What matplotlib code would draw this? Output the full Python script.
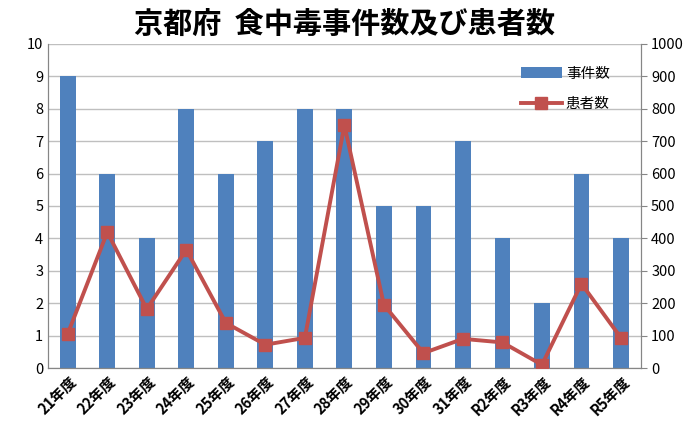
import numpy as np
import matplotlib.pyplot as plt

plt.rcParams['font.family'] = ['Noto Sans CJK JP', 'DejaVu Sans']

years = ['21年度', '22年度', '23年度', '24年度', '25年度', '26年度', '27年度', '28年度',
         '29年度', '30年度', '31年度', 'R2年度', 'R3年度', 'R4年度', 'R5年度']
incidents = [9, 6, 4, 8, 6, 7, 8, 8, 5, 5, 7, 4, 2, 6, 4]
patients = [106, 419, 182, 365, 139, 72, 93, 749, 195, 46, 90, 79, 10, 260, 93]

x = np.arange(len(years))

fig = plt.figure(figsize=(6.9, 4.34), dpi=100, facecolor='white')
ax = fig.add_axes([0.0696, 0.152, 0.859, 0.747])
ax2 = ax.twinx()

ax.bar(x, incidents, width=0.4, color='#4F81BD', zorder=2, label='事件数')
ax2.plot(x, patients, color='#C0504D', lw=2.8, marker='s', ms=9, zorder=3, label='患者数')

ax.set_xlim(-0.5, len(years) - 0.5)
ax.set_ylim(0, 10)
ax.set_yticks(range(0, 11))
ax2.set_ylim(0, 1000)
ax2.set_yticks(range(0, 1001, 100))
ax.grid(axis='y', color='#BFBFBF', lw=1, zorder=0)
ax.set_axisbelow(True)

ax.set_xticks(x)
ax.set_xticklabels(years, rotation=45, ha='right', rotation_mode='anchor',
                   fontsize=10.5, fontweight='bold')
for a in (ax, ax2):
    a.spines['top'].set_visible(False)
    for s in ['left', 'right', 'bottom']:
        a.spines[s].set_color('#868686')
    a.tick_params(axis='y', labelsize=10.5, length=0, colors='#404040', labelcolor='black')
ax.tick_params(axis='x', length=0)
ax2.tick_params(axis='y', length=4, colors='#868686', labelcolor='black')

h1, l1 = ax.get_legend_handles_labels()
h2, l2 = ax2.get_legend_handles_labels()
ax2.legend(h1 + h2, l1 + l2, loc='upper right', bbox_to_anchor=(0.97, 0.97),
           frameon=False, fontsize=10.5, labelspacing=1.1, handlelength=2.8,
           handletextpad=0.3)

fig.suptitle('京都府  食中毒事件数及び患者数', fontsize=21, fontweight='bold', y=0.98)

plt.savefig('out.png', dpi=100, facecolor='white')
plt.close(fig)
